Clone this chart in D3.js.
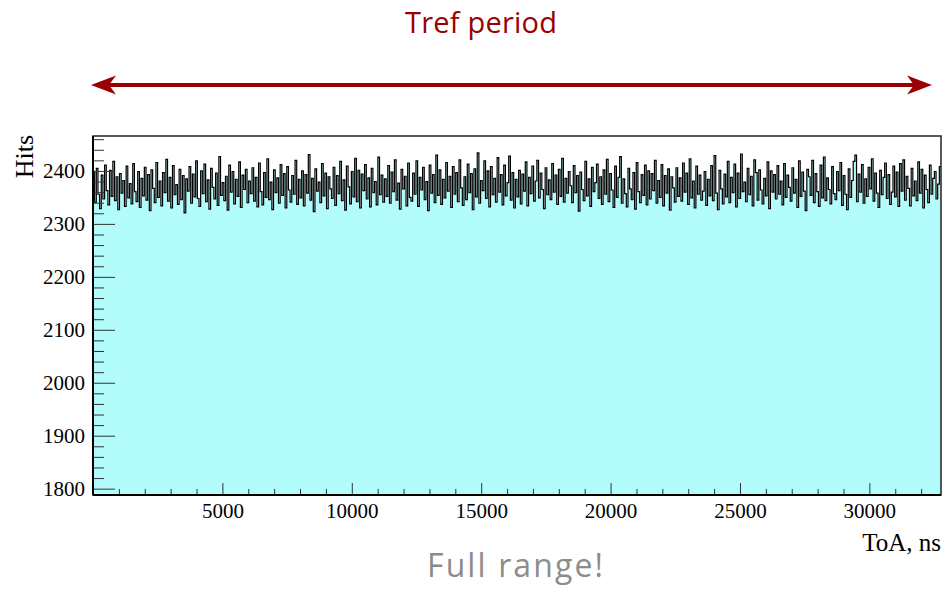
<!DOCTYPE html>
<html>
<head>
<meta charset="utf-8">
<script src="https://cdn.jsdelivr.net/npm/d3@7"></script>
<style>
  html, body { margin: 0; padding: 0; background: #fff; }
</style>
</head>
<body>
<div id="toa-hist"></div>
<script>
// histogram: 512 bins of 64 ns over 0..32768 ns
const binWidth = 64;
const xRange = [0, 32768];
const yRange = [1788, 2466];

const hits = [
  2398,2341,2405,2356,2329,2392,2347,2411,2363,2336,2401,2352,2418,2344,2389,2327,
  2395,2358,2382,2333,2409,2349,2376,2338,2414,2361,2342,2399,2331,2386,2353,2407,
  2345,2393,2325,2402,2367,2340,2416,2350,2381,2334,2397,2359,2422,2343,2388,2330,
  2410,2355,2374,2337,2403,2346,2391,2321,2385,2362,2408,2339,2394,2351,2419,2348,
  2333,2400,2357,2413,2342,2383,2328,2405,2369,2347,2396,2335,2427,2354,2378,2344,
  2390,2326,2411,2360,2399,2338,2384,2352,2417,2331,2392,2365,2403,2340,2381,2357,
  2406,2343,2388,2332,2415,2361,2336,2397,2350,2423,2346,2379,2327,2402,2359,2387,
  2339,2412,2354,2395,2330,2408,2364,2341,2391,2356,2420,2337,2384,2349,2400,2334,
  2393,2358,2431,2345,2386,2323,2404,2362,2379,2340,2414,2353,2396,2329,2389,2366,
  2348,2407,2335,2391,2357,2418,2344,2383,2326,2409,2370,2338,2399,2351,2424,2342,
  2401,2330,2394,2363,2412,2347,2387,2332,2405,2359,2380,2336,2426,2355,2392,2341,
  2385,2352,2410,2339,2398,2361,2421,2345,2377,2328,2403,2366,2390,2334,2415,2350,
  2343,2396,2356,2419,2333,2388,2364,2407,2346,2380,2325,2411,2358,2393,2340,2430,
  2354,2402,2337,2384,2349,2416,2362,2390,2331,2408,2356,2397,2342,2421,2368,2335,
  2389,2346,2413,2359,2395,2327,2404,2351,2434,2339,2382,2363,2419,2348,2400,2332,
  2408,2355,2386,2341,2425,2360,2393,2336,2411,2353,2378,2428,2345,2397,2330,2384,
  2351,2401,2338,2394,2362,2417,2334,2388,2357,2409,2343,2381,2420,2349,2396,2365,
  2329,2406,2355,2383,2346,2414,2360,2392,2337,2403,2352,2424,2341,2386,2358,2399,
  2372,2340,2410,2359,2391,2324,2398,2365,2344,2418,2353,2385,2333,2407,2361,2378,
  2413,2348,2389,2337,2402,2356,2422,2342,2395,2364,2331,2409,2350,2388,2427,2339,
  2385,2357,2332,2405,2366,2346,2397,2328,2416,2361,2340,2393,2354,2411,2336,2400,
  2347,2395,2363,2420,2339,2382,2350,2412,2334,2391,2358,2404,2326,2389,2368,2341,
  2406,2352,2387,2343,2415,2360,2396,2337,2423,2349,2381,2330,2409,2356,2392,2345,
  2362,2399,2335,2384,2353,2410,2344,2429,2358,2327,2401,2366,2338,2394,2351,2418,
  2340,2388,2359,2413,2332,2396,2348,2432,2361,2379,2342,2405,2355,2390,2334,2421,
  2397,2345,2402,2364,2338,2386,2353,2417,2329,2400,2360,2393,2347,2410,2356,2381,
  2336,2414,2350,2392,2369,2343,2406,2358,2384,2331,2419,2352,2398,2362,2325,2403,
  2389,2354,2420,2340,2395,2361,2333,2411,2349,2426,2344,2387,2365,2338,2408,2357,
  2346,2399,2363,2416,2335,2391,2356,2327,2404,2350,2382,2418,2430,2342,2394,2360,
  2412,2339,2385,2352,2407,2366,2423,2343,2396,2358,2331,2401,2355,2388,2415,2348,
  2393,2337,2360,2409,2351,2398,2333,2414,2362,2421,2345,2390,2367,2334,2405,2353,
  2381,2344,2417,2358,2403,2330,2392,2365,2340,2411,2356,2386,2399,2347,2375,2408
];

const xMajorTicks = [5000, 10000, 15000, 20000, 25000, 30000];
const yMajorTicks = [1800, 1900, 2000, 2100, 2200, 2300, 2400];

const width = 948;
const height = 593;
const margin = {top: 136, right: 7, bottom: 98, left: 93};

const x = d3.scaleLinear().domain(xRange).range([margin.left, width - margin.right]);
const y = d3.scaleLinear().domain(yRange).range([height - margin.bottom, margin.top]);

const svg = d3.select('#toa-hist')
  .append('svg')
  .attr('width', width)
  .attr('height', height);

// bins -> step points (last edge repeats the last value)
const steps = hits.map((v, i) => ({x0: i * binWidth, v}));
steps.push({x0: xRange[1], v: hits[hits.length - 1]});

const area = d3.area()
  .curve(d3.curveStepAfter)
  .x((d) => x(d.x0))
  .y0(y(yRange[0]))
  .y1((d) => y(d.v));

const line = d3.line()
  .curve(d3.curveStepAfter)
  .x((d) => x(d.x0))
  .y((d) => y(d.v));

svg.append('path')
  .attr('d', area(steps))
  .attr('fill', '#b2fcfc');

svg.append('path')
  .attr('d', line(steps))
  .attr('fill', 'none')
  .attr('stroke', '#000')
  .attr('stroke-width', 1.2);

// axes, ROOT style: ticks pointing inwards
const tickFont = (g) => g.selectAll('text')
  .attr('font-family', '"Liberation Serif", "Times New Roman", serif')
  .attr('font-size', 21)
  .attr('fill', '#000');

const xMinor = d3.range(1000, 32001, 1000).filter((v) => v % 5000 !== 0);
const yMinor = d3.range(1800, 2461, 20).filter((v) => v % 100 !== 0);

svg.append('g')
  .attr('transform', `translate(0,${y(yRange[0])})`)
  .call(d3.axisBottom(x).tickValues(xMinor).tickSize(-6).tickFormat('').tickSizeOuter(0))
  .call((g) => g.select('.domain').remove())
  .call((g) => g.selectAll('line').attr('stroke', '#333'));

svg.append('g')
  .attr('transform', `translate(0,${y(yRange[0])})`)
  .call(d3.axisBottom(x).tickValues(xMajorTicks).tickSize(-12).tickPadding(8)
    .tickFormat(d3.format('d')).tickSizeOuter(0))
  .call((g) => g.select('.domain').remove())
  .call((g) => g.selectAll('line').attr('stroke', '#333'))
  .call(tickFont);

svg.append('g')
  .attr('transform', `translate(${x(xRange[0])},0)`)
  .call(d3.axisLeft(y).tickValues(yMinor).tickSize(-11).tickFormat('').tickSizeOuter(0))
  .call((g) => g.select('.domain').remove())
  .call((g) => g.selectAll('line').attr('stroke', '#333'));

svg.append('g')
  .attr('transform', `translate(${x(xRange[0])},0)`)
  .call(d3.axisLeft(y).tickValues(yMajorTicks).tickSize(-22).tickPadding(8)
    .tickFormat(d3.format('d')).tickSizeOuter(0))
  .call((g) => g.select('.domain').remove())
  .call((g) => g.selectAll('line').attr('stroke', '#333'))
  .call(tickFont);

// frame
svg.append('rect')
  .attr('x', x(xRange[0]))
  .attr('y', y(yRange[1]))
  .attr('width', x(xRange[1]) - x(xRange[0]))
  .attr('height', y(yRange[0]) - y(yRange[1]))
  .attr('fill', 'none')
  .attr('stroke', '#222')
  .attr('stroke-width', 1.5);

svg.append('line')
  .attr('x1', x(xRange[0])).attr('x2', x(xRange[0]))
  .attr('y1', y(yRange[1])).attr('y2', y(yRange[0]))
  .attr('stroke', '#000').attr('stroke-width', 2);

svg.append('line')
  .attr('x1', x(xRange[0])).attr('x2', x(xRange[1]))
  .attr('y1', y(yRange[0])).attr('y2', y(yRange[0]))
  .attr('stroke', '#000').attr('stroke-width', 2);

// axis titles
svg.append('text')
  .attr('transform', `translate(33,${y(yRange[1]) - 1}) rotate(-90)`)
  .attr('text-anchor', 'end')
  .attr('font-family', '"Liberation Serif", "Times New Roman", serif')
  .attr('font-size', 26)
  .text('Hits');

svg.append('text')
  .attr('x', x(xRange[1]))
  .attr('y', 551)
  .attr('text-anchor', 'end')
  .attr('font-family', '"Liberation Serif", "Times New Roman", serif')
  .attr('font-size', 25)
  .text('ToA, ns');

// annotations: period arrow over the full range
const red = '#9b0000';
svg.append('text')
  .attr('x', 405)
  .attr('y', 33)
  .attr('font-family', '"Open Sans", "Noto Sans", sans-serif')
  .attr('font-size', 29)
  .attr('fill', red)
  .attr('textLength', 152)
  .attr('lengthAdjust', 'spacing')
  .text('Tref period');

const arrowY = 85;
svg.append('line')
  .attr('x1', 108).attr('x2', 915)
  .attr('y1', arrowY).attr('y2', arrowY)
  .attr('stroke', red)
  .attr('stroke-width', 4);

svg.append('path')
  .attr('d', `M91,${arrowY} L116,${arrowY - 9.5} L109,${arrowY} L116,${arrowY + 9.5} Z`)
  .attr('fill', red);

svg.append('path')
  .attr('d', `M932,${arrowY} L907,${arrowY - 9.5} L914,${arrowY} L907,${arrowY + 9.5} Z`)
  .attr('fill', red);

svg.append('text')
  .attr('x', 427)
  .attr('y', 577)
  .attr('font-family', '"Open Sans", "Noto Sans", sans-serif')
  .attr('font-size', 32)
  .attr('fill', '#8c8c8c')
  .attr('textLength', 176)
  .attr('lengthAdjust', 'spacing')
  .text('Full range!');
</script>
</body>
</html>
